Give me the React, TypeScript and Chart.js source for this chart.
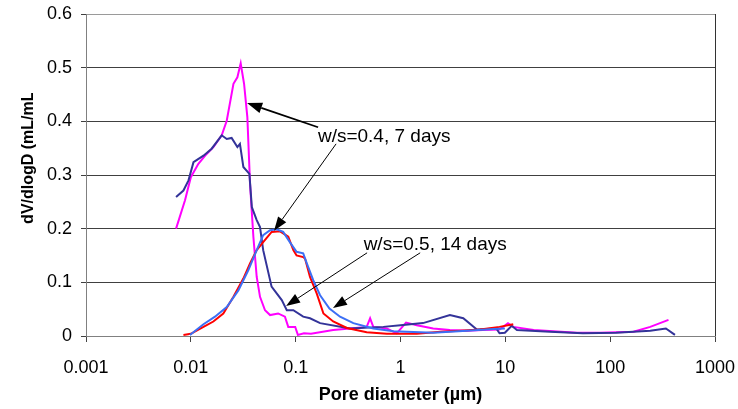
import { useEffect, useRef } from 'react';
import { Chart, registerables } from 'chart.js';

Chart.register(...registerables);

const FONT = "'Liberation Sans', Arial, Helvetica, sans-serif";

// Axis ticks
const xTickValues = [0.001, 0.01, 0.1, 1, 10, 100, 1000];
const xTickLabels = ['0.001', '0.01', '0.1', '1', '10', '100', '1000'];
const yTickValues = [0, 0.1, 0.2, 0.3, 0.4, 0.5, 0.6];
const yTickLabels = ['0', '0.1', '0.2', '0.3', '0.4', '0.5', '0.6'];

// w/s=0.4, 7 days — first curve (magenta)
const ws04aDiam = [
  0.00723, 0.0088, 0.01, 0.0118, 0.0137, 0.0164, 0.0197, 0.022, 0.0255, 0.0278,
  0.0299, 0.0322, 0.0346, 0.0367, 0.0395, 0.0425, 0.0457, 0.051, 0.057, 0.068,
  0.079, 0.085, 0.099, 0.105, 0.12, 0.14, 0.228, 0.33, 0.476, 0.513,
  0.55, 0.74, 0.92, 1.13, 1.43, 2.05, 2.96, 4.3, 6.1, 8.8,
  10.6, 11.9, 18.6, 48, 80, 167, 241, 360,
];
const ws04aVal = [
  0.2, 0.253, 0.296, 0.321, 0.336, 0.352, 0.374, 0.401, 0.47, 0.482,
  0.508, 0.47, 0.408, 0.284, 0.185, 0.11, 0.073, 0.048, 0.039, 0.042,
  0.036, 0.017, 0.017, 0.002, 0.005, 0.004, 0.011, 0.014, 0.017, 0.033,
  0.017, 0.014, 0.005, 0.025, 0.02, 0.014, 0.011, 0.01, 0.011, 0.012,
  0.024, 0.017, 0.011, 0.006, 0.006, 0.008, 0.017, 0.03,
];

// w/s=0.4, 7 days — second curve (red)
const ws04bDiam = [
  0.0085, 0.01, 0.0132, 0.0164, 0.0204, 0.0255, 0.0317, 0.0367, 0.0425, 0.049,
  0.059, 0.071, 0.085, 0.095, 0.102, 0.118, 0.123, 0.137, 0.159, 0.184,
  0.228, 0.308, 0.476, 0.74, 1.43, 2.41, 3.7, 5.75, 8.8, 11.9,
];
const ws04bVal = [
  0.002, 0.004, 0.017, 0.027, 0.042, 0.073, 0.107, 0.135, 0.16, 0.175,
  0.194, 0.195, 0.185, 0.16, 0.15, 0.147, 0.144, 0.11, 0.079, 0.042,
  0.027, 0.015, 0.007, 0.004, 0.004, 0.008, 0.01, 0.012, 0.017, 0.022,
];

// w/s=0.5, 14 days — first curve (navy)
const ws05aDiam = [
  0.00723, 0.0085, 0.0095, 0.0106, 0.0132, 0.0158, 0.0197, 0.022, 0.0245, 0.0278,
  0.0294, 0.0317, 0.0362, 0.0382, 0.0425, 0.0457, 0.049, 0.0589, 0.0737, 0.0823,
  0.095, 0.118, 0.137, 0.171, 0.33, 0.685, 1.0, 1.64, 2.96, 3.97,
  5.35, 8.2, 8.8, 9.9, 11.5, 12.9, 26.6, 55, 114, 241,
  340, 415,
];
const ws05aVal = [
  0.259, 0.271, 0.29, 0.324, 0.336, 0.349, 0.374, 0.367, 0.369, 0.352,
  0.358, 0.315, 0.302, 0.24, 0.216, 0.203, 0.16, 0.092, 0.067, 0.048,
  0.048, 0.036, 0.033, 0.024, 0.014, 0.017, 0.02, 0.024, 0.039, 0.033,
  0.012, 0.014, 0.005, 0.006, 0.019, 0.011, 0.008, 0.005, 0.006, 0.01,
  0.014, 0.002,
];

// w/s=0.5, 14 days — second curve (light blue)
const ws05bDiam = [
  0.0098, 0.0132, 0.017, 0.022, 0.0284, 0.0354, 0.0425, 0.049, 0.057, 0.066,
  0.076, 0.088, 0.102, 0.118, 0.128, 0.147, 0.171, 0.21, 0.265, 0.355,
  0.55, 0.86, 2.05, 4.3, 7.7, 9.9,
];
const ws05bVal = [
  0.002, 0.022, 0.036, 0.054, 0.085, 0.123, 0.16, 0.188, 0.197, 0.199,
  0.194, 0.175, 0.157, 0.154, 0.135, 0.104, 0.076, 0.051, 0.036, 0.024,
  0.014, 0.009, 0.006, 0.01, 0.013, 0.014,
];

// Callout texts and arrows, in data coordinates (diameter, dV/dlogD)
const callouts = [
  { text: 'w/s=0.4, 7 days', x: 0.163, y: 0.361 },
  { text: 'w/s=0.5, 14 days', x: 0.445, y: 0.16 },
];
const calloutArrows = [
  { from: [0.1636, 0.389], to: [0.0344, 0.434], width: 1.8, head: 15, half: 5.5 },
  { from: [0.243, 0.358], to: [0.0622, 0.196], width: 1, head: 14, half: 5 },
  { from: [0.48, 0.155], to: [0.081, 0.056], width: 1, head: 14, half: 5 },
  { from: [1.54, 0.155], to: [0.227, 0.052], width: 1, head: 14, half: 5 },
];

const toPoints = (xs: number[], ys: number[]) => xs.map((x, i) => ({ x, y: ys[i] }));

const calloutPlugin = {
  id: 'calloutPlugin',
  afterDatasetsDraw(chart: any) {
    const { ctx } = chart;
    const xs = chart.scales.x;
    const ys = chart.scales.y;
    ctx.save();
    ctx.fillStyle = '#000';
    ctx.strokeStyle = '#000';
    for (const a of calloutArrows) {
      const sx = xs.getPixelForValue(a.from[0]);
      const sy = ys.getPixelForValue(a.from[1]);
      const tx = xs.getPixelForValue(a.to[0]);
      const ty = ys.getPixelForValue(a.to[1]);
      const ang = Math.atan2(ty - sy, tx - sx);
      const bx = tx - a.head * Math.cos(ang);
      const by = ty - a.head * Math.sin(ang);
      ctx.lineWidth = a.width;
      ctx.beginPath();
      ctx.moveTo(sx, sy);
      ctx.lineTo(bx, by);
      ctx.stroke();
      ctx.beginPath();
      ctx.moveTo(tx, ty);
      ctx.lineTo(bx + a.half * Math.sin(ang), by - a.half * Math.cos(ang));
      ctx.lineTo(bx - a.half * Math.sin(ang), by + a.half * Math.cos(ang));
      ctx.closePath();
      ctx.fill();
    }
    ctx.font = `19px ${FONT}`;
    ctx.textAlign = 'left';
    ctx.textBaseline = 'alphabetic';
    for (const c of callouts) {
      ctx.fillText(c.text, xs.getPixelForValue(c.x), ys.getPixelForValue(c.y));
    }
    ctx.restore();
  },
  afterDraw(chart: any) {
    // Vertical axis title, clipped by its text box at the top
    const { ctx } = chart;
    ctx.save();
    ctx.beginPath();
    ctx.rect(0, 93, 60, 409);
    ctx.clip();
    ctx.translate(33, 155);
    ctx.rotate(-Math.PI / 2);
    ctx.font = `bold 16px ${FONT}`;
    ctx.fillStyle = '#000';
    ctx.textAlign = 'center';
    ctx.textBaseline = 'alphabetic';
    ctx.fillText('dV/dlogD (mL/mL)', 0, 0);
    ctx.restore();
  },
};

export default function App() {
  const canvasRef = useRef<HTMLCanvasElement | null>(null);

  useEffect(() => {
    const canvas = canvasRef.current;
    if (!canvas) return;
    const line = (data: any[], color: string) => ({
      data,
      borderColor: color,
      backgroundColor: color,
      borderWidth: 2,
      pointRadius: 0,
      tension: 0,
      fill: false,
    });
    const chart = new Chart(canvas, {
      type: 'line',
      data: {
        datasets: [
          line(toPoints(ws05bDiam, ws05bVal), '#3c6ff5'),
          line(toPoints(ws04bDiam, ws04bVal), '#ff0000'),
          line(toPoints(ws05aDiam, ws05aVal), '#333399'),
          line(toPoints(ws04aDiam, ws04aVal), '#ff00ff'),
        ],
      },
      options: {
        animation: false,
        responsive: false,
        devicePixelRatio: 1,
        parsing: false,
        layout: { padding: { left: 0, right: 23, top: 14, bottom: 0 } },
        plugins: {
          legend: { display: false },
          tooltip: { enabled: false },
        },
        scales: {
          x: {
            type: 'logarithmic',
            min: 0.001,
            max: 1000,
            afterBuildTicks: (s: any) => {
              s.ticks = xTickValues.map((v) => ({ value: v }));
            },
            afterFit: (s: any) => {
              s.height = 73;
              s.paddingLeft = 0;
              s.paddingRight = 0;
            },
            ticks: {
              autoSkip: false,
              maxRotation: 0,
              padding: 15,
              color: '#000',
              font: { family: FONT, size: 18 },
              callback: (_v: any, i: number) => xTickLabels[i],
            },
            grid: {
              drawOnChartArea: true,
              color: (c: any) => (c.tick && c.tick.value === 1000 ? '#333333' : 'rgba(0,0,0,0)'),
              tickColor: '#444444',
              tickLength: 6,
              lineWidth: 1,
            },
            border: { display: true, color: '#808080', width: 1 },
            title: {
              display: true,
              text: 'Pore diameter (µm)',
              color: '#000',
              font: { family: FONT, size: 18, weight: 'bold' },
              padding: { top: 0, bottom: 3 },
            },
          },
          y: {
            type: 'linear',
            min: 0,
            max: 0.6,
            afterBuildTicks: (s: any) => {
              s.ticks = yTickValues.map((v) => ({ value: v }));
            },
            afterFit: (s: any) => {
              s.width = 86;
              s.paddingTop = 0;
              s.paddingBottom = 0;
            },
            ticks: {
              padding: 9,
              color: '#000',
              font: { family: FONT, size: 18 },
              callback: (_v: any, i: number) => yTickLabels[i],
            },
            grid: {
              color: (c: any) => {
                const v = c.tick ? c.tick.value : -1;
                if (v === 0) return '#808080';
                if (v === 0.6) return '#9a9a9a';
                return '#404040';
              },
              tickColor: '#404040',
              tickLength: 5,
              lineWidth: 1,
            },
            border: { display: true, color: '#808080', width: 1 },
          },
        },
      } as any,
      plugins: [calloutPlugin],
    });
    return () => chart.destroy();
  }, []);

  return (
    <div style={{ position: 'absolute', left: 0, top: 0, width: 738, height: 409, background: '#fff' }}>
      <canvas ref={canvasRef} width={738} height={409} style={{ display: 'block' }} />
    </div>
  );
}
